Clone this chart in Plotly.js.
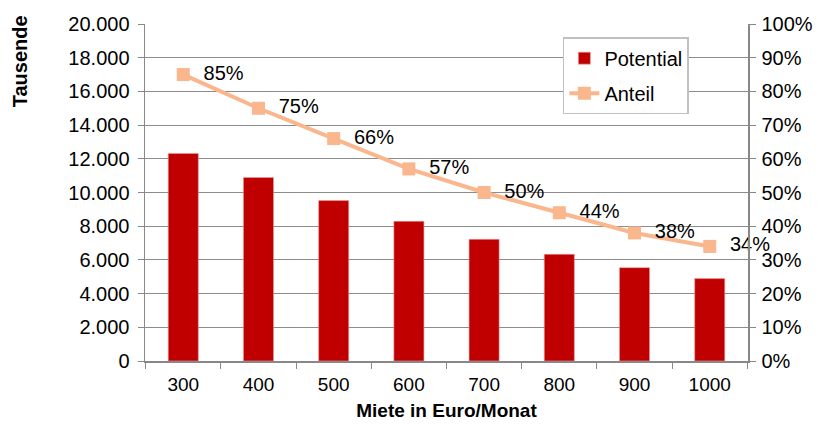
<!DOCTYPE html>
<html><head><meta charset="utf-8">
<script src="https://cdn.plot.ly/plotly-3.0.1.min.js"></script>
<style>html,body{margin:0;padding:0;background:#fff}#c{width:821px;height:427px}</style>
</head><body><div id="c"></div>
<script>
const categories = ["300","400","500","600","700","800","900","1000"];
const potential = [12320, 10890, 9520, 8290, 7220, 6330, 5540, 4890];
const anteil = [0.85, 0.75, 0.66, 0.57, 0.50, 0.44, 0.38, 0.34];

const font = "Liberation Sans, Arial, sans-serif";
const traces = [
  {type:"bar", name:"Potential", x:categories, y:potential, legendgroup:"a",
   marker:{color:"#C00000", line:{color:"#E8A0A0", width:0.6}}, hoverinfo:"y"},
  {type:"scatter", mode:"lines+markers+text", name:"Anteil", x:categories, y:anteil, yaxis:"y2", legendgroup:"b",
   line:{color:"#FAB68C", width:4}, marker:{symbol:"square", size:13, color:"#FAB68C"},
   texttemplate:"  %{y:.0%}", textposition:"middle right",
   textfont:{family:font, size:20, color:"#000"}, cliponaxis:false}
];
const layout = {
  width:821, height:427, margin:{l:145, r:73, t:24, b:66},
  separators:",.", paper_bgcolor:"#fff", plot_bgcolor:"#fff",
  font:{family:font, size:20, color:"#000"},
  bargap:0.6, showlegend:true,
  xaxis:{type:"category", tickson:"boundaries", ticks:"outside", ticklen:6, tickcolor:"#888",
         showline:true, linecolor:"#888", linewidth:1.5, showgrid:false, mirror:false,
         tickfont:{size:19}, ticklabelstandoff:6,
         title:{text:"Miete in Euro/Monat", font:{size:19, weight:"bold"}, standoff:9}},
  yaxis:{range:[0,20000], dtick:2000, tickformat:",d", ticks:"outside", ticklen:6, tickcolor:"#888",
         showline:true, linecolor:"#888", linewidth:1.5, gridcolor:"#8c8c8c", gridwidth:1,
         zeroline:false, tickfont:{size:20}, ticklabelstandoff:4},
  yaxis2:{range:[0,1], dtick:0.1, tickformat:".0%", overlaying:"y", side:"right",
          ticks:"outside", ticklen:6, tickcolor:"#888", showline:true, linecolor:"#888", linewidth:1.5,
          showgrid:false, zeroline:false, tickfont:{size:20}, ticklabelstandoff:2},
  legend:{x:0.693, y:0.961, xanchor:"left", yanchor:"top", bgcolor:"#fff", bordercolor:"#c0c0c0",
          borderwidth:1.5, font:{size:20}, traceorder:"grouped", tracegroupgap:6},
  annotations:[{text:"Tausende", xref:"paper", yref:"paper", x:-0.207, y:0.89, textangle:-90,
                showarrow:false, font:{size:20, weight:"bold"}, xanchor:"center", yanchor:"middle"}]
};
Plotly.newPlot("c", traces, layout, {displayModeBar:false, staticPlot:true});
</script></body></html>
